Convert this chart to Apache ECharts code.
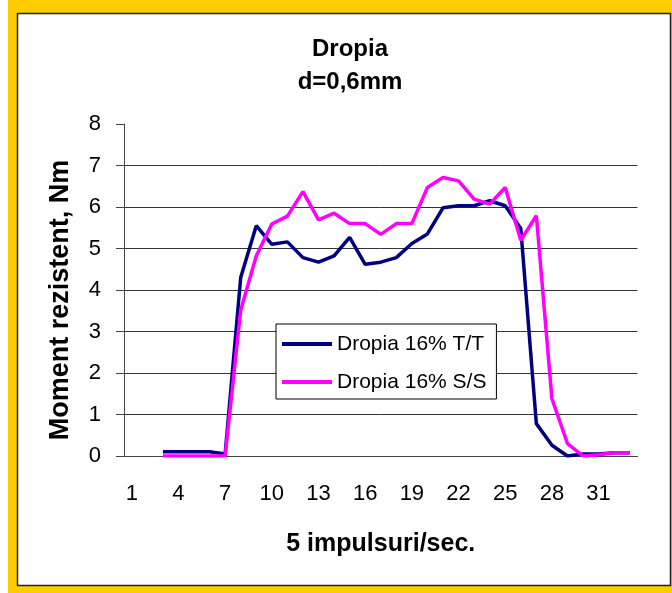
<!DOCTYPE html>
<html>
<head>
<meta charset="utf-8">
<script src="https://cdn.jsdelivr.net/npm/echarts@6/dist/echarts.min.js"></script>
<style>
  html, body { margin: 0; padding: 0; background: #fff; }
  #chart { width: 672px; height: 593px; }
</style>
</head>
<body>
<div id="chart"></div>
<script>
// impulse index (x) and tick labels
const categories = ['1','2','3','4','5','6','7','8','9','10','11','12','13','14','15','16','17',
  '18','19','20','21','22','23','24','25','26','27','28','29','30','31','32','33'];
const yTicks = [0, 1, 2, 3, 4, 5, 6, 7, 8];

// Dropia 16% T/T
const seriesTT = [null, null, 0.1, 0.1, 0.1, 0.1, 0.05, 4.3, 5.55, 5.1, 5.16, 4.78, 4.67, 4.82,
  5.27, 4.62, 4.67, 4.78, 5.12, 5.35, 5.98, 6.03, 6.03, 6.15, 6.03, 5.48, 0.78, 0.26, 0.0,
  0.05, 0.05, 0.08, 0.08];
// Dropia 16% S/S
const seriesSS = [null, null, 0, 0, 0, 0, 0, 3.51, 4.82, 5.59, 5.78, 6.37, 5.69, 5.85, 5.6,
  5.6, 5.34, 5.6, 5.6, 6.47, 6.71, 6.63, 6.19, 6.07, 6.47, 5.2, 5.79, 1.38, 0.3, 0.0, 0.03,
  0.08, 0.08];

const seriesNames = ['Dropia 16% T/T', 'Dropia 16% S/S'];
const font = 'Liberation Sans, Arial, sans-serif';

let chart = echarts.init(document.getElementById('chart'));

chart.setOption({
    animation: false,
    textStyle: { fontFamily: font },
    graphic: [
        // yellow frame and white plot panel
        { type: 'rect', z: -10, shape: { x: 8, y: 0, width: 664, height: 593 },
          style: { fill: '#FFCC00' } },
        { type: 'rect', z: -9, shape: { x: 17.5, y: 13.5, width: 653, height: 572 },
          style: { fill: '#fff', stroke: '#222', lineWidth: 1.5 } },
        { type: 'text', x: 61, y: 300, rotation: Math.PI / 2,
          style: { text: 'Moment rezistent, Nm', font: 'bold 27px ' + font,
                   fill: '#000', align: 'center', verticalAlign: 'middle' } }
    ],
    title: {
        text: 'Dropia\nd=0,6mm',
        left: 345,
        top: 28,
        textAlign: 'center',
        textStyle: { fontSize: 24, fontWeight: 'bold', lineHeight: 33, color: '#000' }
    },
    legend: {
        orient: 'vertical',
        left: 276,
        top: 324,
        padding: [9, 10, 6, 6],
        itemGap: 16,
        itemWidth: 50,
        itemHeight: 4,
        icon: 'rect',
        backgroundColor: '#fff',
        borderColor: '#000',
        borderWidth: 1,
        textStyle: { fontSize: 21, color: '#000', lineHeight: 22 },
        data: seriesNames
    },
    grid: { left: 124, right: 34.5, top: 124, bottom: 137 },
    xAxis: {
        type: 'category',
        data: categories,
        boundaryGap: true,
        name: '5 impulsuri/sec.',
        nameLocation: 'middle',
        nameGap: 76,
        nameTextStyle: { fontSize: 25, fontWeight: 'bold', color: '#000' },
        axisLine: { lineStyle: { color: '#444', width: 1 } },
        axisTick: { interval: 0, length: 7, lineStyle: { color: '#444' } },
        axisLabel: { interval: 2, margin: 27, fontSize: 22, color: '#000' }
    },
    yAxis: {
        type: 'value',
        min: yTicks[0],
        max: yTicks[yTicks.length - 1],
        interval: 1,
        axisLine: { show: true, lineStyle: { color: '#444', width: 1 } },
        axisTick: { show: true, length: 8, lineStyle: { color: '#444' } },
        axisLabel: { margin: 23, fontSize: 22, color: '#000' },
        splitLine: { show: true, showMaxLine: false, lineStyle: { color: '#333', width: 1 } }
    },
    series: [
        {
            name: seriesNames[0],
            type: 'line',
            data: seriesTT,
            symbol: 'none',
            color: '#000080',
            lineStyle: { width: 3.5, color: '#000080' }
        },
        {
            name: seriesNames[1],
            type: 'line',
            data: seriesSS,
            symbol: 'none',
            color: '#FF00FF',
            lineStyle: { width: 3.5, color: '#FF00FF' }
        }
    ]
});
</script>
</body>
</html>
